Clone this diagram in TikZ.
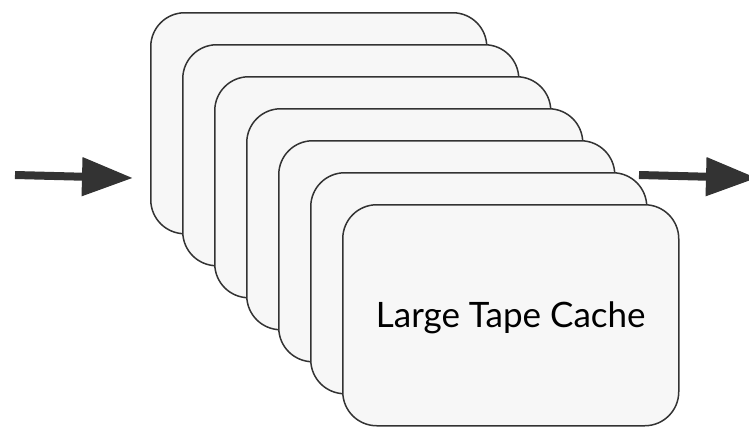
\documentclass[tikz,border=0pt]{standalone}
\usepackage{fontspec}
\setmainfont{Lato}
\usetikzlibrary{arrows.meta}
\definecolor{cardfill}{HTML}{F7F7F7}
\definecolor{ink}{HTML}{333333}
\tikzset{
  card/.style={draw=ink, fill=cardfill, line width=1.5pt, rounded corners=34pt,
    minimum width=336pt, minimum height=221pt, inner sep=0pt, anchor=north west},
  flow/.style={draw=ink, line width=8pt, -{Triangle[length=51pt,width=37pt]}}
}
\begin{document}
\begin{tikzpicture}[x=1pt,y=-1pt]
  \useasboundingbox (0,0) rectangle (749,426);
  \clip (0,0) rectangle (749,426);
  % stack of cache cards, each shifted 32pt right and down
  \foreach \i in {0,...,5} {
    \node[card] (c\i) at (150+32*\i, 12+32*\i) {};
  }
  \node[card] (c6) at (342,204) {};
  \node[font=\fontsize{35}{42}\selectfont, inner sep=0pt] (label) at ([yshift=-3pt]c6.center) {Large Tape Cache};
  % incoming and outgoing flow
  \coordinate (inS) at (15,175);
  \coordinate (inE) at (133,178);
  \coordinate (outS) at (639,175);
  \coordinate (outE) at (757,178);
  \draw[flow] (inS) -- (inE);
  \draw[flow] (outS) -- (outE);
\end{tikzpicture}
\end{document}
